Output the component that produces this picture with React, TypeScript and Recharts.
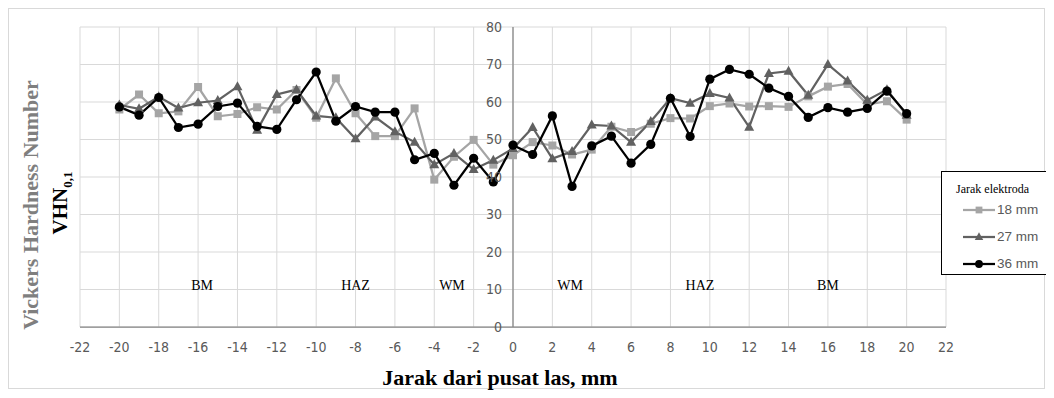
import {
  CartesianGrid,
  Legend,
  Line,
  LineChart,
  ReferenceDot,
  ReferenceLine,
  XAxis,
  YAxis,
} from "recharts";

// jarak dari pusat las (mm)
const distances = [
  -20, -19, -18, -17, -16, -15, -14, -13, -12, -11, -10, -9, -8, -7, -6, -5, -4, -3, -2, -1, 0,
  1, 2, 3, 4, 5, 6, 7, 8, 9, 10, 11, 12, 13, 14, 15, 16, 17, 18, 19, 20,
];

const hv18 = [
  58, 62, 57, 57.5, 64, 56.2, 56.8, 58.6, 58, 63.2, 55.8, 66.3, 57, 50.9, 50.9, 58.3, 39.3, 45.4,
  49.9, 43.3, 45.8, 49.3, 48.4, 46, 47.3, 53.4, 52, 54.2, 55.7, 55.6, 58.9, 59.6, 58.8, 58.9, 58.7,
  61.5, 64.1, 64.8, 59.3, 60.2, 55.3,
];
const hv27 = [
  59.2, 58.2, 61.4, 58.4, 59.8, 60.4, 64.1, 52.5, 62, 63.3, 56.3, 55.8, 50.2, 56, 52.1, 49.3, 43.3,
  46.3, 42, 44.5, 47.6, 53.2, 44.9, 46.8, 53.9, 53.6, 49.3, 54.8, 61, 59.7, 62.3, 61.1, 53.3, 67.6,
  68.2, 61.8, 70, 65.6, 60.5, 63.3, 56.5,
];
const hv36 = [
  58.7, 56.5, 61.2, 53.2, 54.1, 58.8, 59.7, 53.5, 52.7, 60.6, 68, 54.9, 58.8, 57.3, 57.3, 44.6,
  46.3, 37.8, 45, 38.7, 48.5, 46, 56.3, 37.5, 48.3, 50.9, 43.7, 48.7, 61, 50.8, 66.1, 68.7, 67.4,
  63.7, 61.5, 55.9, 58.5, 57.3, 58.3, 62.9, 56.9,
];

const xTicks = [-22, -20, -18, -16, -14, -12, -10, -8, -6, -4, -2, 0, 2, 4, 6, 8, 10, 12, 14, 16, 18, 20, 22];
const yTicks = [0, 10, 20, 30, 40, 50, 60, 70, 80];

const zoneNames = ["BM", "HAZ", "WM", "WM", "HAZ", "BM"];
const zoneX = [-15.8, -8, -3.1, 2.9, 9.5, 16];
const zoneY = 11.2;

const data = distances.map((d, i) => ({ x: d, s18: hv18[i], s27: hv27[i], s36: hv36[i] }));

const W = 1036;
const H = 381;
const margin = { top: 19, right: 98, bottom: 32, left: 71 };
const Y_AXIS_W = 1;
const PLOT_LEFT = margin.left + Y_AXIS_W;
const ZERO_X = PLOT_LEFT + (W - PLOT_LEFT - margin.right) / 2;

const tickFont = '"Liberation Sans Narrow", "DejaVu Sans Condensed", Arial, sans-serif';
const serif = '"Liberation Serif", "Times New Roman", serif';

const colors: Record<string, string> = { s18: "#a5a5a5", s27: "#616161", s36: "#000000" };

function marker(key: string, cx: number, cy: number, scale = 1, k?: string) {
  const fill = colors[key];
  if (key === "s18") {
    const h = 4 * scale;
    return <rect key={k} x={cx - h} y={cy - h} width={h * 2} height={h * 2} fill={fill} />;
  }
  if (key === "s27") {
    const pts = `${cx},${cy - 5.5 * scale} ${cx - 5 * scale},${cy + 3.5 * scale} ${cx + 5 * scale},${cy + 3.5 * scale}`;
    return <polygon key={k} points={pts} fill={fill} />;
  }
  return <circle key={k} cx={cx} cy={cy} r={4.6 * scale} fill={fill} />;
}

const dotFor = (key: string) => (p: any) => marker(key, p.cx, p.cy, 1, `${key}-${p.index}`);

const renderYTick = (props: any) => {
  const { y, payload, index } = props;
  return (
    <text
      key={`yt-${index}`}
      x={ZERO_X - 11}
      y={y}
      dy={4.5}
      textAnchor="end"
      fill="#595959"
      fontSize={14}
      fontFamily={tickFont}
    >
      {payload.value}
    </text>
  );
};

function LegendBox(props: any) {
  const payload = props.payload || [];
  return (
    <div
      style={{
        border: "1px solid #000",
        background: "#fff",
        width: 125,
        height: 104,
        boxSizing: "border-box",
      }}
    >
      <div style={{ fontFamily: serif, fontSize: 12, lineHeight: "14px", padding: "10px 0 0 14px", height: 24, boxSizing: "border-box", color: "#000" }}>
        Jarak elektroda
      </div>
      {payload.map((e: any) => (
        <div key={e.dataKey} style={{ display: "flex", alignItems: "center", height: 27 }}>
          <svg width={54} height={14} style={{ display: "block" }}>
            <line x1={21} y1={7} x2={53} y2={7} stroke={colors[e.dataKey]} strokeWidth={2.25} />
            {marker(e.dataKey, 37, 7, 0.85)}
          </svg>
          <span style={{ fontFamily: '"Liberation Sans", Arial, sans-serif', fontSize: 13.5, color: "#595959", marginLeft: 1 }}>
            {e.value}
          </span>
        </div>
      ))}
    </div>
  );
}

export default function App() {
  return (
    <div style={{ position: "relative", width: 1046, height: 390, overflow: "hidden" }}>
      <div
        style={{
          position: "absolute",
          left: 0,
          top: 0,
          width: 1037,
          height: 381,
          border: "1px solid #d9d9d9",
          boxSizing: "border-box",
        }}
      />
      <div style={{ position: "absolute", left: 0, top: 0 }}>
        <LineChart width={W} height={H} data={data} margin={margin}>
          <CartesianGrid stroke="#d9d9d9" strokeWidth={1} />
          <XAxis
            dataKey="x"
            type="number"
            domain={[-22, 22]}
            ticks={xTicks}
            interval={0}
            height={30}
            tickSize={0}
            tickMargin={15}
            tickLine={false}
            axisLine={{ stroke: "#868686", strokeWidth: 1.25 }}
            tick={{ fill: "#595959", fontSize: 14, fontFamily: tickFont }}
          />
          <YAxis
            type="number"
            domain={[0, 80]}
            ticks={yTicks}
            interval={0}
            width={Y_AXIS_W}
            tickLine={false}
            axisLine={false}
            tick={renderYTick}
          />
          <ReferenceLine x={0} stroke="#868686" strokeWidth={1.25} />
          {zoneNames.map((n, i) => (
            <ReferenceDot
              key={`z-${i}`}
              x={zoneX[i]}
              y={zoneY}
              r={0}
              fill="none"
              stroke="none"
              label={{ value: n, position: "center", fill: "#000", fontSize: 14, fontFamily: serif }}
            />
          ))}
          <Legend
            layout="vertical"
            align="center"
            verticalAlign="middle"
            content={<LegendBox />}
            wrapperStyle={{ position: "absolute", left: 933, top: 163, width: 125, height: 104 }}
          />
          <Line
            dataKey="s18"
            name="18 mm"
            stroke={colors.s18}
            strokeWidth={2.25}
            dot={dotFor("s18")}
            activeDot={false}
            isAnimationActive={false}
          />
          <Line
            dataKey="s27"
            name="27 mm"
            stroke={colors.s27}
            strokeWidth={2.25}
            dot={dotFor("s27")}
            activeDot={false}
            isAnimationActive={false}
          />
          <Line
            dataKey="s36"
            name="36 mm"
            stroke={colors.s36}
            strokeWidth={2.25}
            dot={dotFor("s36")}
            activeDot={false}
            isAnimationActive={false}
          />
        </LineChart>
      </div>
      <div
        style={{
          position: "absolute",
          left: 23,
          top: 197,
          transform: "translate(-50%, -50%) rotate(-90deg)",
          whiteSpace: "nowrap",
          fontFamily: serif,
          fontWeight: "bold",
          fontSize: 22,
          color: "#7f7f7f",
        }}
      >
        Vickers Hardness Number
      </div>
      <div
        style={{
          position: "absolute",
          left: 54,
          top: 195,
          transform: "translate(-50%, -50%) rotate(-90deg)",
          whiteSpace: "nowrap",
          fontFamily: serif,
          fontWeight: "bold",
          fontSize: 21,
          color: "#000",
        }}
      >
        VHN<sub style={{ fontSize: 13 }}>0,1</sub>
      </div>
      <div
        style={{
          position: "absolute",
          left: 492,
          top: 370,
          transform: "translate(-50%, -50%)",
          whiteSpace: "nowrap",
          fontFamily: serif,
          fontWeight: "bold",
          fontSize: 22,
          color: "#000",
        }}
      >
        Jarak dari pusat las, mm
      </div>
    </div>
  );
}
